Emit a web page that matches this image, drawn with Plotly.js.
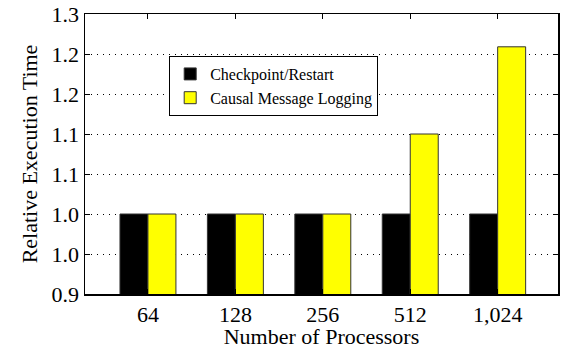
<!DOCTYPE html>
<html>
<head>
<meta charset="utf-8">
<script src="https://cdn.plot.ly/plotly-3.0.1.min.js"></script>
<style>html,body{margin:0;padding:0;background:#fff;}#chart{width:570px;height:349px;}</style>
</head>
<body>
<div id="chart"></div>
<script>
const categories = ['64', '128', '256', '512', '1,024'];
const checkpointRestart = [1.05, 1.05, 1.05, 1.05, 1.05];
const causalLogging = [1.05, 1.05, 1.05, 1.15, 1.259];
const yTickVals = [0.95, 1.0, 1.05, 1.1, 1.15, 1.2, 1.25, 1.3];
const yTickText = ['0.9', '1.0', '1.0', '1.1', '1.1', '1.2', '1.2', '1.3'];

const traces = [
  {type: 'bar', name: 'Checkpoint/Restart', x: categories, y: checkpointRestart,
   marker: {color: '#000000', line: {color: '#333', width: 1}}},
  {type: 'bar', name: 'Causal Message Logging', x: categories, y: causalLogging,
   marker: {color: '#ffff00', line: {color: '#333', width: 1}}}
];

const layout = {
  width: 570, height: 349,
  margin: {l: 85, r: 12, t: 14, b: 55},
  paper_bgcolor: '#fff', plot_bgcolor: '#fff',
  barmode: 'group', bargap: 0.36, bargroupgap: 0,
  font: {family: 'Liberation Serif', size: 18, color: '#000'},
  showlegend: true,
  legend: {x: 0.178, y: 0.85, xanchor: 'left', yanchor: 'top',
           bgcolor: '#fff', bordercolor: '#000', borderwidth: 1,
           font: {family: 'Liberation Serif', size: 16, color: '#000'}, tracegroupgap: 0},
  xaxis: {
    type: 'category', range: [-0.72, 4.69],
    showline: true, linecolor: '#000', linewidth: 1.5, mirror: 'ticks',
    ticks: 'inside', ticklen: 5, tickcolor: '#000',
    showgrid: false, tickfont: {family: 'Liberation Serif', size: 22, color: '#000'},
    title: {text: 'Number of Processors', standoff: 2}
  },
  yaxis: {
    range: [0.95, 1.3], tickvals: yTickVals, ticktext: yTickText,
    showline: true, linecolor: '#000', linewidth: 1.5, mirror: 'ticks',
    ticks: 'inside', ticklen: 5, tickcolor: '#000',
    showgrid: true, gridcolor: '#000', gridwidth: 1, griddash: '1px,5px',
    zeroline: false, tickfont: {family: 'Liberation Serif', size: 22, color: '#000'},
    title: {text: 'Relative Execution Time', standoff: 8}
  }
};

Plotly.newPlot('chart', traces, layout, {displayModeBar: false, staticPlot: true});
</script>
</body>
</html>
